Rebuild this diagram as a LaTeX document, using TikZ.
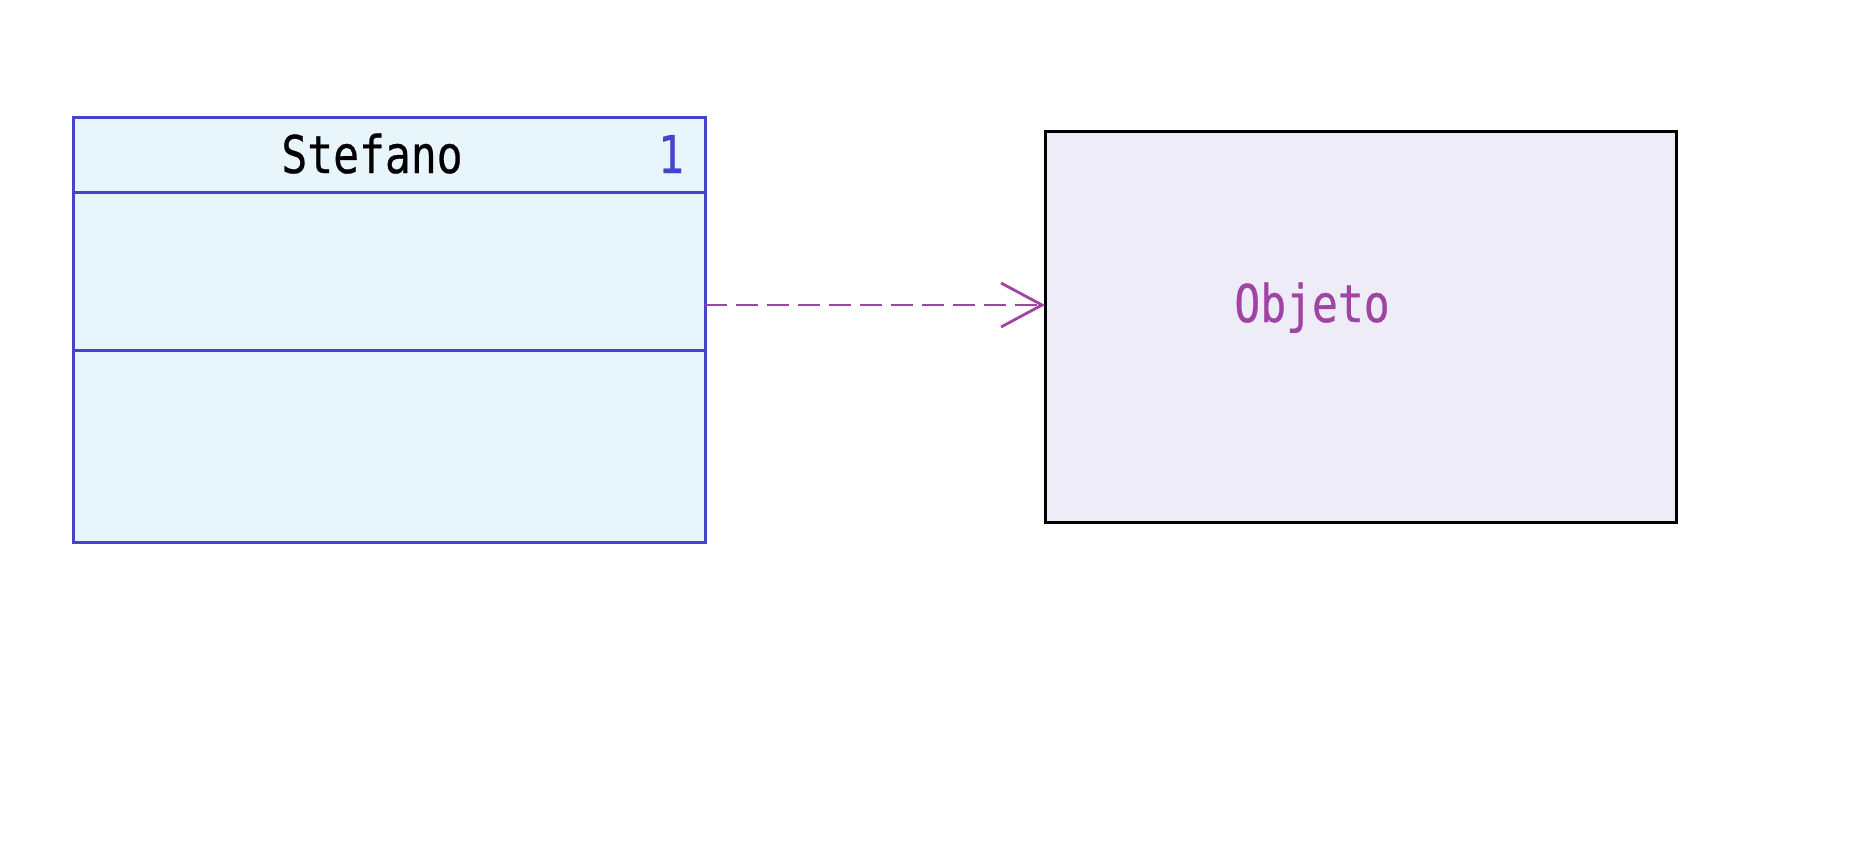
\documentclass[tikz,border=0pt]{standalone}
\usepackage{fontspec}
\usepackage{graphicx}
\usetikzlibrary{arrows.meta, positioning}
\newfontfamily\monofont[FakeBold=0.6]{DejaVu Sans Mono}

\definecolor{classline}{HTML}{4444CC}
\definecolor{classfill}{HTML}{E8F6FB}
\definecolor{objfill}{HTML}{EEECF6}
\definecolor{depcolor}{HTML}{A044A4}

\tikzset{
  compart/.style={draw=classline, fill=classfill, line width=3pt, minimum width=632pt, inner sep=0pt, outer sep=0pt},
  objbox/.style={draw=black, fill=objfill, line width=3pt, minimum width=631pt, minimum height=391pt, inner sep=0pt, outer sep=0pt},
  classname/.style={font=\monofont\fontsize{43pt}{48pt}\selectfont, anchor=base, inner sep=0pt},
  dep/.style={depcolor, line width=2.8pt, dash pattern=on 22pt off 9pt, -{Straight Barb[length=41pt, width=44pt, line width=2.8pt]}},
}
\newcommand\tallmono[1]{\scalebox{1}[1.21]{#1}}

\begin{document}
\begin{tikzpicture}[x=1pt, y=-1pt]
  \useasboundingbox (0,0) rectangle (1857,851);

  % class box with its three compartments
  \node[compart, minimum height=75pt, anchor=north west] (hdr) at (73,117) {};
  \node[compart, minimum height=158pt, below=0pt of hdr] (attrs) {};
  \node[compart, minimum height=192pt, below=0pt of attrs] (ops) {};
  \node[classname] (name) at (372,173) {\tallmono{Stefano}};
  \node[classname, text=classline] (mult) at (671,173) {\tallmono{1}};

  % object
  \node[objbox, anchor=north west] (obj) at (1045,131) {};
  \node[classname, text=depcolor] (objname) at (1312,322) {\tallmono{Objeto}};

  \coordinate (lvl) at (0,305);
  \draw[dep] (hdr.east |- lvl) -- (obj.west |- lvl);
\end{tikzpicture}
\end{document}
